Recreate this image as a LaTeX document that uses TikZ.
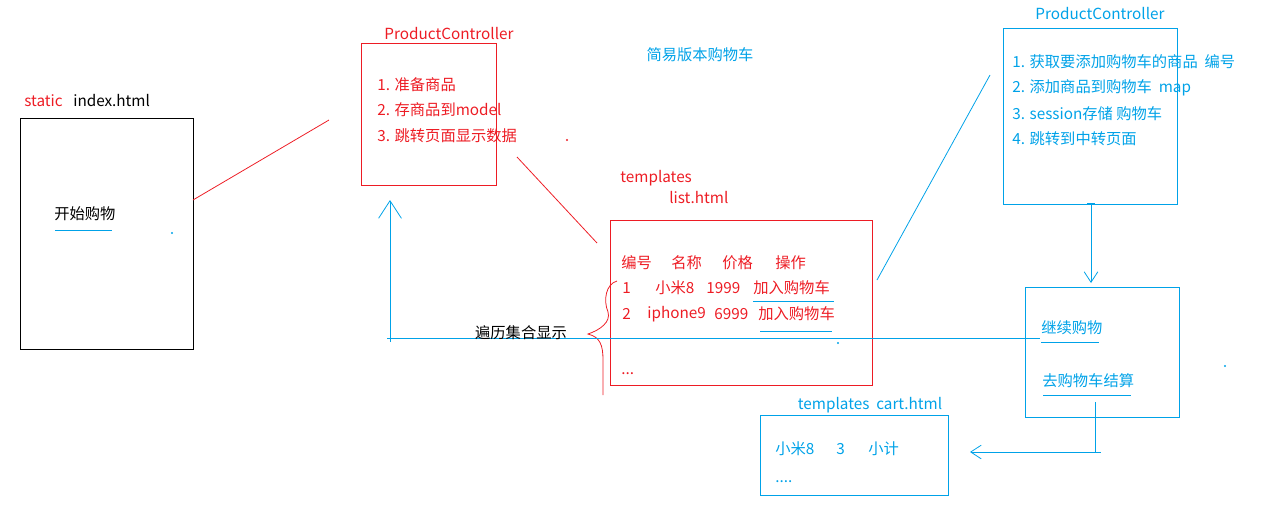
\documentclass[tikz,border=0pt]{standalone}
\usepackage{fontspec}
\setmainfont{Noto Sans CJK SC}
\usepackage{tikz}
\usetikzlibrary{arrows.meta, positioning}
\definecolor{pred}{RGB}{237,28,36}
\definecolor{pblue}{RGB}{0,162,232}

\begin{document}
\begin{tikzpicture}[
    x=0.02cm, y=-0.02cm,
    font=\fontsize{8.7pt}{10pt}\selectfont,
    pbox/.style={rectangle, draw=#1, line width=0.5pt, inner sep=0pt},
    txt/.style={text=#1, inner sep=0pt, anchor=west},
    ctxt/.style={text=#1, inner sep=0pt},
    wire/.style={draw=#1, line width=0.45pt},
    barb/.style={-{Straight Barb[length=#1, width=#1*1.3, line width=0.45pt]}},
    speck/.style={circle, fill=#1, inner sep=0pt, minimum size=1.2pt},
]
\useasboundingbox (0,0) rectangle (1268,508);

% --- boxes ---
\node[pbox=black, minimum width=3.46cm, minimum height=4.62cm] (idx)  at (106.5,233.5) {};
\node[pbox=pred,  minimum width=2.70cm, minimum height=2.84cm] (pcr)  at (428.5,114) {};
\node[pbox=pred,  minimum width=5.24cm, minimum height=3.30cm] (list) at (741,302.5) {};
\node[pbox=pblue, minimum width=3.48cm, minimum height=3.52cm] (pcb)  at (1090,116) {};
\node[pbox=pblue, minimum width=3.08cm, minimum height=2.60cm] (mid)  at (1102,352) {};
\node[pbox=pblue, minimum width=3.76cm, minimum height=1.60cm] (cart) at (854,455) {};

% --- index.html ---
\node[txt=pred]  (stat)  at (24,101)  {static};
\node[txt=black] (idxn)  at (73,101)  {index.html};
\node[txt=black] (start) at (54,214)  {开始购物};
\draw[wire=pblue] (55,230) -- (112,230);

% --- first controller ---
\node[ctxt=pred] (pcrn) at (449,34) {ProductController};
\node[txt=pred] (r1) at (377,85)  {1. 准备商品};
\node[txt=pred] (r2) at (377,110) {2. 存商品到model};
\node[txt=pred] (r3) at (377,136) {3. 跳转页面显示数据};

\node[ctxt=pblue] (title) at (700,55) {简易版本购物车};

% --- list.html ---
\node[txt=pred] (tpl)   at (620,178) {templates};
\node[txt=pred] (listn) at (669,198) {list.html};
\node[txt=pred] (h1) at (621,263) {编号};
\node[txt=pred] (h2) at (671,263) {名称};
\node[txt=pred] (h3) at (722,263) {价格};
\node[txt=pred] (h4) at (775,263) {操作};
\node[txt=pred] (a1) at (622,288) {1};
\node[txt=pred] (a2) at (655,288) {小米8};
\node[txt=pred] (a3) at (706,288) {1999};
\node[txt=pred] (a4) at (753,288) {加入购物车};
\node[txt=pred] (b1) at (622,314) {2};
\node[txt=pred] (b2) at (647,314) {iphone9};
\node[txt=pred] (b3) at (714,314) {6999};
\node[txt=pred] (b4) at (758,314) {加入购物车};
\node[txt=pred] (dots) at (621,374) {...};
\draw[wire=pblue] (753,301) -- (834,301);
\draw[wire=pblue] (760,331) -- (832,331);

% --- second controller ---
\node[ctxt=pblue] (pcbn) at (1100,14) {ProductController};
\node[txt=pblue] (s1) at (1012,62)  {1. 获取要添加购物车的商品\ \ 编号};
\node[txt=pblue] (s2) at (1012,88)  {2. 添加商品到购物车\ \ map};
\node[txt=pblue] (s3) at (1012,114) {3. session存储 购物车};
\node[txt=pblue] (s4) at (1012,139) {4. 跳转到中转页面};

% --- choice page ---
\node[txt=pblue] (cont) at (1041,328) {继续购物};
\node[txt=pblue] (pay)  at (1042,381) {去购物车结算};
\draw[wire=pblue] (1041,342) -- (1099,342);
\draw[wire=pblue] (1043,395) -- (1131,395);

% --- cart.html ---
\node[ctxt=pblue] (cartn) at (870,405) {templates\ \ cart.html};
\node[txt=pblue] (c1) at (775,449) {小米8};
\node[txt=pblue] (c2) at (836,449) {3};
\node[txt=pblue] (c3) at (868,449) {小计};
\node[txt=pblue] (c4) at (775,482) {....};

% --- connector ends ---
\coordinate (idxR)  at (193,200);
\coordinate (pcrL)  at (329,120);
\coordinate (pcrB)  at (517,157);
\coordinate (listL) at (597,243);
\coordinate (listR) at (877,280);
\coordinate (pcbL)  at (990,75);
\coordinate (loopS) at (390,342);
\coordinate (loopT) at (390,200);
\coordinate (loopL) at (387,338);
\coordinate (contL) at (1040,338);
\coordinate (pcbB)  at (1091,204);
\coordinate (midT)  at (1091,283);
\coordinate (payB)  at (1095,402);
\coordinate (cartR) at (970,452);

% --- red strokes ---
\draw[wire=pred] (idxR) -- (pcrL);
\draw[wire=pred] (pcrB) -- (listL);
\draw[wire=pred] (617,281) .. controls (606,284) and (603,300) .. (608,312)
    .. controls (611,322) and (600,330) .. (588,334)
    .. controls (600,337) and (603,345) .. (603,360) -- (603,395);

% --- blue strokes ---
\draw[wire=pblue] (listR) -- (pcbL);
\draw[wire=pblue] (loopL) -- (contL);
\draw[wire=pblue, barb=10pt] (loopS) -- (loopT);
\draw[wire=pblue] (1087,203) -- (1095,203);
\draw[wire=pblue, barb=6pt] (pcbB) -- (midT);
\draw[wire=pblue, barb=6pt] (payB) |- (cartR);
\draw[wire=pblue] (1095,452) -- (1101,452);

\node[ctxt=black] (loop) at (521,333) {遍历集合显示};

% --- specks ---
\node[speck=pred]  (d1) at (567,140) {};
\node[speck=pblue] (d2) at (172,233) {};
\node[speck=pblue] (d3) at (838,343) {};
\node[speck=pblue] (d4) at (1225,366) {};
\end{tikzpicture}
\end{document}
